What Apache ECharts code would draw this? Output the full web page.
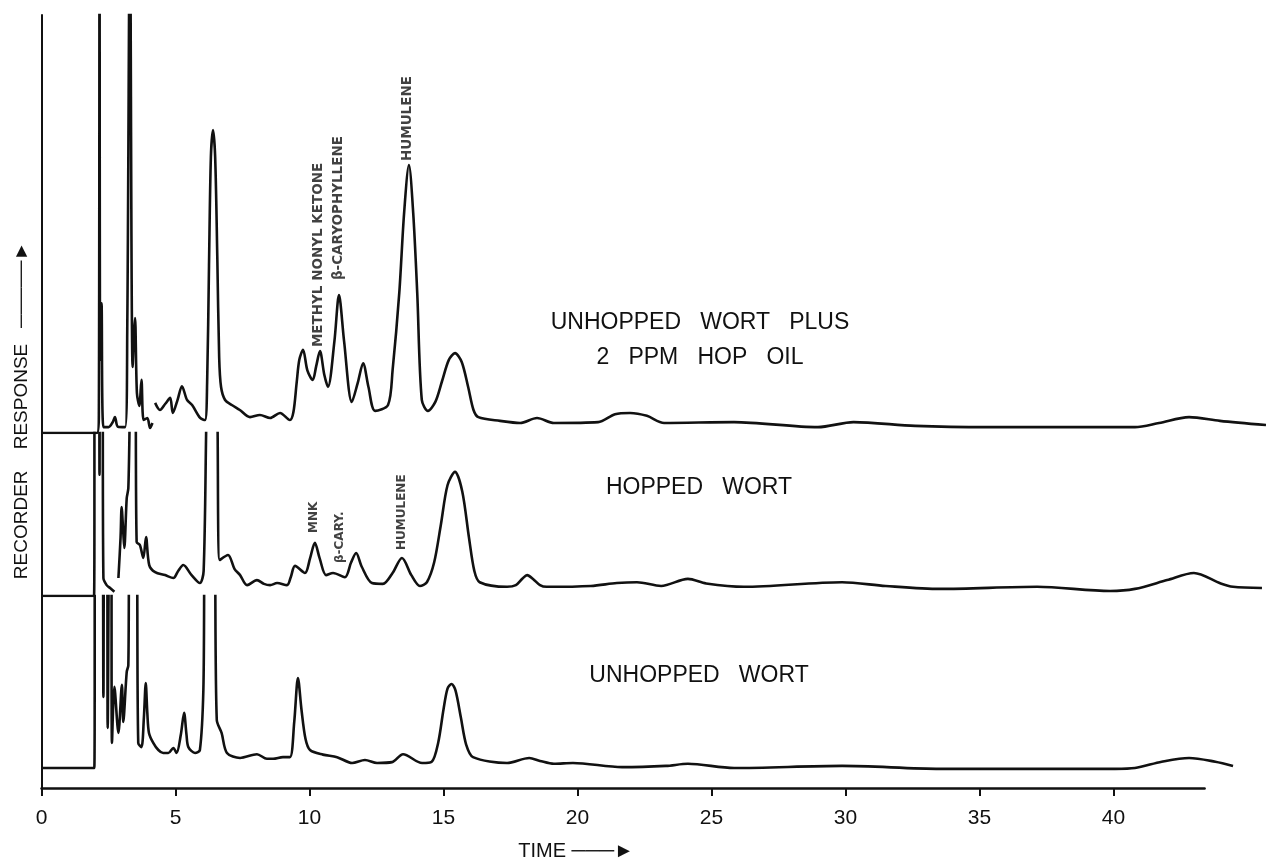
<!DOCTYPE html>
<html>
<head>
<meta charset="utf-8">
<title>Hop oil chromatograms</title>
<script src="https://cdn.jsdelivr.net/npm/echarts@6/dist/echarts.min.js"></script>
<style>
  html, body { margin: 0; padding: 0; background: #fff; }
  #chart { width: 1266px; height: 859px; }
</style>
</head>
<body>
<div id="chart"></div>
<script>
// Gas chromatograms: retention time (min) against recorder response (chart units).
// '-' marks a break in the pen trace.
const hopOilTrace = [
  [0, 0], [2.07, 0], [2.14, 4], [2.165, 125], [2.19, 17.5], [2.24, 31], [2.31, 1.4],
  [2.5, 1.4], [2.65, 2.5], [2.74, 3.8], [2.85, 1.5], [3.12, 1.4], [3.2, 25], [3.3, 125],
  [3.4, 15.8], [3.49, 27.5], [3.56, 9.6], [3.65, 6.5], [3.73, 12.7], [3.81, 3.1],
  [3.95, 3.6], [4.05, 1.2], [4.14, 2.4], [4.2, '-'], [4.24, 7.2], [4.42, 5.5], [4.62, 7.0],
  [4.8, 8.4], [4.9, 4.8], [5.08, 8.0], [5.24, 11.2], [5.43, 7.9], [5.62, 6.7], [5.92, 3.6],
  [6.1, 3.1], [6.18, 12], [6.25, 40], [6.32, 66], [6.4, 72.5], [6.48, 66], [6.56, 42],
  [6.63, 18], [6.7, 11], [6.85, 7.9], [7.1, 6.7], [7.4, 5.5], [7.78, 3.8], [8.15, 4.3],
  [8.53, 3.6], [8.9, 4.8], [9.27, 3.1], [9.4, 5], [9.52, 12], [9.62, 17.5], [9.76, 19.9],
  [9.92, 15], [10.12, 12.7], [10.25, 16], [10.39, 19.6], [10.55, 14], [10.69, 11.0],
  [10.93, 22], [11.1, 33.0], [11.29, 22], [11.58, 7.4], [11.8, 12], [12.0, 16.7],
  [12.2, 11], [12.45, 5.3], [12.93, 6.7], [13.1, 15], [13.35, 33.5], [13.53, 52.6],
  [13.71, 64.1], [13.87, 52.6], [14.02, 33.5], [14.19, 7.9], [14.42, 5.3], [14.7, 7.5],
  [14.95, 12.5], [15.2, 17.5], [15.43, 19.1], [15.68, 17], [15.92, 11], [16.12, 5.5],
  [16.3, 3.8], [17.11, 2.9], [17.86, 2.4], [18.49, 3.6], [19.12, 2.4], [20.77, 2.6],
  [21.4, 4.5], [21.96, 4.8], [22.59, 4.1], [23.23, 2.4], [25.84, 2.6], [28.97, 1.4],
  [30.3, 2.6], [32.6, 1.7], [35.32, 1.4], [40.8, 1.4], [41.7, 2.4], [42.82, 3.8],
  [43.97, 2.9], [45.69, 1.9]
];

const hoppedTrace = [
  [0, 0], [1.96, 0], [1.99, 60], [2.14, 60], [2.165, 29], [2.19, 60], [2.27, 60],
  [2.31, 4.3], [2.43, 2.6], [2.56, 1.9], [2.72, 1.0], [2.8, '-'], [2.87, 4.3], [2.95, 14],
  [2.99, 21.3], [3.05, 15.3], [3.09, 11.5], [3.18, 23.4], [3.24, 25.8], [3.3, 45],
  [3.37, 60], [3.49, 60], [3.55, 12.9], [3.67, 12.2], [3.8, 9.1], [3.9, 14.1], [4.02, 7.4],
  [4.24, 5.7], [4.61, 5.0], [4.92, 4.3], [5.1, 6], [5.29, 7.4], [5.6, 5.0], [5.91, 3.1],
  [6.05, 6], [6.16, 45], [6.36, 90], [6.56, 45], [6.65, 8.6], [6.96, 9.8], [7.2, 6.5],
  [7.41, 5.0], [7.67, 2.6], [8.04, 3.8], [8.3, 2.9], [8.53, 2.6], [8.79, 3.1], [9.16, 2.6],
  [9.3, 4.5], [9.46, 7.2], [9.83, 5.5], [10.02, 9], [10.2, 12.7], [10.38, 9], [10.62, 5.0],
  [10.88, 5.5], [11.32, 4.5], [11.55, 8], [11.74, 10.3], [11.95, 7], [12.33, 3.1],
  [12.74, 2.9], [13.1, 5.5], [13.45, 9.1], [13.8, 5], [14.12, 2.4], [14.38, 3.3],
  [14.65, 8], [14.9, 17], [15.15, 26.5], [15.43, 29.7], [15.7, 25], [15.95, 14],
  [16.15, 6], [16.35, 3.3], [17.37, 2.2], [17.7, 2.6], [17.95, 4.2], [18.12, 5.0],
  [18.35, 4.0], [18.6, 2.6], [18.85, 2.2], [20.5, 2.4], [21.47, 3.1], [22.22, 3.3],
  [23.12, 2.4], [24.12, 4.1], [24.8, 3.0], [26.21, 2.2], [29.87, 3.3], [31.5, 2.4],
  [33.53, 1.7], [37.15, 2.2], [39.87, 1.2], [40.8, 1.7], [42.0, 3.8], [43.0, 5.5],
  [44.0, 3.0], [44.46, 2.2], [45.54, 1.9]
];

const unhoppedTrace = [
  [0, 0], [1.97, 0], [2.0, 60], [2.27, 60], [2.31, 17.0], [2.35, 60], [2.44, 60],
  [2.47, 9.6], [2.54, 60], [2.6, 60], [2.63, 6.0], [2.72, 19.4], [2.87, 8.4], [3.0, 19.9],
  [3.05, 11.0], [3.18, 23.0], [3.24, 24.6], [3.3, 60], [3.52, 60], [3.61, 6.0], [3.73, 5.0],
  [3.82, 12], [3.89, 20.3], [3.95, 13], [4.01, 8.4], [4.17, 6.0], [4.36, 4.3], [4.54, 3.6],
  [4.73, 3.6], [4.92, 4.8], [5.04, 3.6], [5.2, 8], [5.32, 13.2], [5.41, 8], [5.48, 5.0],
  [5.73, 3.6], [5.91, 4.3], [6.04, 18.7], [6.13, 60], [6.41, 60], [6.54, 11.5], [6.72, 8.4],
  [6.92, 3.6], [7.41, 2.4], [8.04, 3.3], [8.41, 2.2], [8.64, 2.2], [9.01, 2.6], [9.27, 2.6],
  [9.43, 11], [9.57, 21.5], [9.7, 14], [9.85, 7], [10.02, 4.3], [10.5, 3.2], [11.03, 2.6],
  [11.59, 1.2], [12.07, 1.9], [12.52, 1.2], [13.08, 1.4], [13.49, 3.3], [14.2, 1.2],
  [14.56, 1.5], [14.8, 6], [15.0, 14], [15.15, 19], [15.3, 20.1], [15.45, 18.5],
  [15.65, 12], [15.85, 5.5], [16.1, 2.6], [17.37, 1.2], [18.2, 2.4], [18.6, 1.7],
  [19.12, 1.0], [19.83, 1.2], [21.66, 0.2], [23.3, 0.5], [24.12, 1.0], [25.84, 0],
  [29.87, 0.5], [33.53, -0.2], [40.06, -0.2], [40.8, 0], [41.8, 1.5], [42.82, 2.4],
  [43.8, 1.5], [44.46, 0.5]
];

const timeTicks = [0, 5, 10, 15, 20, 25, 30, 35, 40];

// Peak identifications: name and retention time (min)
const hopOilPeakNames = [['METHYL NONYL KETONE', 10.34], ['β-CARYOPHYLLENE', 11.1], ['HUMULENE', 13.64]];
const hoppedPeakNames = [['MNK', 10.15], ['β-CARY.', 11.14], ['HUMULENE', 13.45]];

const traceTitles = [
  'UNHOPPED   WORT   PLUS\n2   PPM   HOP   OIL',
  'HOPPED   WORT',
  'UNHOPPED   WORT'
];

// ---------------------------------------------------------------- layout
const INK = '#111';
const FONT = 'Liberation Sans, Arial, sans-serif';
const PLOT_LEFT = 41.5;          // px of t = 0
const PX_PER_MIN = 26.8;
const PX_PER_UNIT = 4.18;        // response units -> px
const PAGE_W = 1266;
const TRACE_END = (PAGE_W - PLOT_LEFT) / PX_PER_MIN;
const AXIS_END = 43.4;

// strip for each chromatogram: top px, height px, px of the zero line above the strip bottom
const strips = [
  { top: 15, height: 418, baseOffset: 0 },
  { top: 433, height: 163, baseOffset: 0 },
  { top: 596, height: 192, baseOffset: 20 }
];
const traces = [hopOilTrace, hoppedTrace, unhoppedTrace];

function peakTop(trace, t, win) {
  let best = -Infinity;
  trace.forEach(([x, y]) => {
    if (typeof y === 'number' && Math.abs(x - t) <= win && y > best) best = y;
  });
  return best;
}

const grid = strips.map(s => ({
  left: PLOT_LEFT, right: 0, top: s.top, height: s.height, outerBoundsMode: 'none'
}));
grid.push({
  left: PLOT_LEFT, width: AXIS_END * PX_PER_MIN, top: 15, height: 773, outerBoundsMode: 'none'
});

const xAxis = strips.map((s, i) => ({
  gridIndex: i, type: 'value', min: 0, max: TRACE_END, show: false
}));
xAxis.push({
  gridIndex: 3, type: 'value', min: 0, max: AXIS_END, interval: 5,
  axisLine: { show: true, onZero: false, lineStyle: { color: INK, width: 2.5 } },
  axisTick: { show: true, customValues: timeTicks, length: 8, lineStyle: { color: INK, width: 2 } },
  axisLabel: { customValues: timeTicks, color: INK, fontFamily: FONT, fontSize: 21, margin: 20 },
  splitLine: { show: false },
  name: 'TIME ───►', nameLocation: 'middle', nameGap: 53,
  nameTextStyle: { color: INK, fontFamily: FONT, fontSize: 20, padding: [0, 94, 0, 0] }
});

const yAxis = strips.map((s, i) => ({
  gridIndex: i, type: 'value', show: false,
  min: -s.baseOffset / PX_PER_UNIT,
  max: (s.height - s.baseOffset) / PX_PER_UNIT
}));
yAxis.push({
  gridIndex: 3, type: 'value', min: 0, max: 1,
  axisLine: { show: true, onZero: false, lineStyle: { color: INK, width: 2 } },
  axisTick: { show: false }, axisLabel: { show: false }, splitLine: { show: false },
  name: 'RECORDER    RESPONSE   ─────►', nameLocation: 'middle', nameGap: 10,
  nameTextStyle: { color: INK, fontFamily: FONT, fontSize: 19, padding: [0, 18, 0, 0] }
});

const series = traces.map((data, i) => ({
  type: 'line', xAxisIndex: i, yAxisIndex: i, data,
  showSymbol: false, smooth: 0.3, clip: true, silent: true,
  lineStyle: { color: INK, width: 2.6 }
}));

// rotated peak names sit just above the peak they identify; offset runs along the text
function peakLabelSeries(names, trace, axisIdx, gaps, fontSize) {
  return {
    type: 'scatter', xAxisIndex: axisIdx, yAxisIndex: axisIdx, silent: true, z: 5,
    symbol: 'circle', symbolSize: 1, itemStyle: { color: 'rgba(0,0,0,0)' },
    data: names.map(([name, t], k) => ({
      name, value: [t, peakTop(trace, t, 0.3)], label: { offset: [gaps[k], 0] }
    })),
    label: {
      show: true, formatter: '{b}', position: 'inside', rotate: 90,
      align: 'left', verticalAlign: 'middle',
      fontFamily: 'DejaVu Sans', fontWeight: 'bold', fontSize, color: INK
    }
  };
}
series.push(peakLabelSeries(hopOilPeakNames, hopOilTrace, 0, [4, 15, 4], 13.5));
series.push(peakLabelSeries(hoppedPeakNames, hoppedTrace, 1, [10, 10, 8], 12));

const titleStyle = { color: INK, fontFamily: FONT, fontSize: 23, fontWeight: 'normal', lineHeight: 35 };
const title = [
  { text: traceTitles[0], left: 700, top: 305, textAlign: 'center', padding: 0, textStyle: titleStyle },
  { text: traceTitles[1], left: 699, top: 470, textAlign: 'center', padding: 0, textStyle: titleStyle },
  { text: traceTitles[2], left: 699, top: 658, textAlign: 'center', padding: 0, textStyle: titleStyle }
];

const chart = echarts.init(document.getElementById('chart'), null, { renderer: 'canvas' });
chart.setOption({
  backgroundColor: '#fff',
  animation: false,
  title, grid, xAxis, yAxis, series
});
</script>
</body>
</html>
